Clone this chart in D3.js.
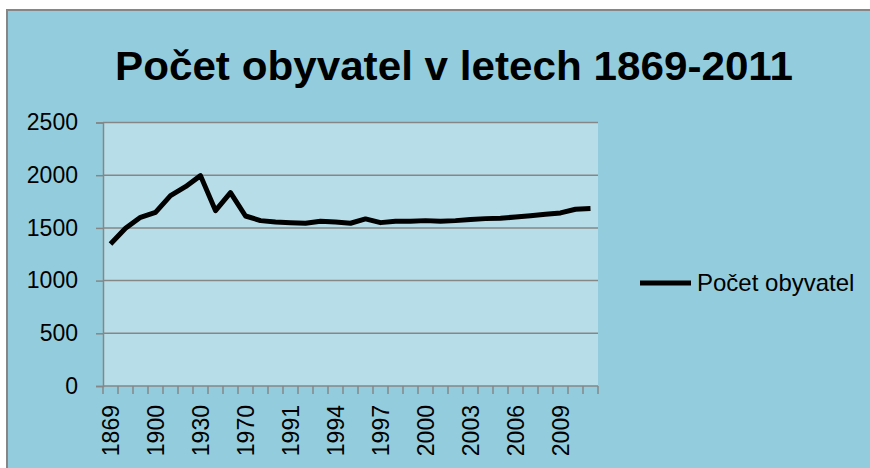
<!DOCTYPE html>
<html>
<head>
<meta charset="utf-8">
<title>Počet obyvatel v letech 1869-2011</title>
<script src="https://d3js.org/d3.v7.min.js"></script>
<style>
  body { margin: 0; background: #fff; }
  text { font-family: "Liberation Sans", Arial, sans-serif; fill: #000; }
</style>
</head>
<body>
<div id="chart"></div>
<script>
// census years (only every 3rd gets a label on the axis)
var years = ["1869", "1880", "1890", "1900", "1910", "1921", "1930", "1950", "1961", "1970", "1980", "1990",
  "1991", "1992", "1993", "1994", "1995", "1996", "1997", "1998", "1999", "2000", "2001",
  "2002", "2003", "2004", "2005", "2006", "2007", "2008", "2009", "2010", "2011"];
var population = [1348, 1497, 1601, 1648, 1806, 1891, 1996, 1664, 1835, 1613, 1569, 1556,
  1550, 1544, 1563, 1556, 1544, 1585, 1550, 1563, 1563, 1569, 1563,
  1569, 1579, 1588, 1591, 1604, 1616, 1629, 1642, 1677, 1683];
var yTicks = [0, 500, 1000, 1500, 2000, 2500];
var seriesName = "Počet obyvatel";
var title = "Počet obyvatel v letech 1869-2011";

var W = 870, H = 468;
var plot = { left: 103, right: 598, top: 122.5, bottom: 386 };

var svg = d3.select("#chart").append("svg")
  .attr("width", W).attr("height", H);

// chart area
svg.append("rect")
  .attr("x", 7).attr("y", 10).attr("width", W).attr("height", H)
  .attr("fill", "#93cddd").attr("stroke", "#868686").attr("stroke-width", 2);

// title
svg.append("text")
  .attr("x", 454).attr("y", 80)
  .attr("text-anchor", "middle")
  .attr("font-size", 40).attr("font-weight", "bold")
  .attr("textLength", 678).attr("lengthAdjust", "spacingAndGlyphs")
  .text(title);

var x = d3.scaleBand().domain(years).range([plot.left, plot.right]).padding(0);
var y = d3.scaleLinear().domain([0, 2500]).range([plot.bottom, plot.top]);

// plot area
svg.append("rect")
  .attr("x", plot.left).attr("y", plot.top)
  .attr("width", plot.right - plot.left).attr("height", plot.bottom - plot.top)
  .attr("fill", "#b7dee8");

// gridlines
svg.append("g").selectAll("line")
  .data(yTicks.filter(function (d) { return d > 0; }))
  .enter().append("line")
  .attr("x1", plot.left).attr("x2", plot.right)
  .attr("y1", function (d) { return y(d); }).attr("y2", function (d) { return y(d); })
  .attr("stroke", "#868686").attr("stroke-width", 1.5);

// y axis
var yAxis = svg.append("g")
  .attr("transform", "translate(" + plot.left + ",0)")
  .call(d3.axisLeft(y).tickValues(yTicks).tickFormat(d3.format("d")).tickSize(7).tickPadding(18));
yAxis.select(".domain").attr("stroke", "#868686").attr("stroke-width", 1.5);
yAxis.selectAll(".tick line").attr("stroke", "#868686").attr("stroke-width", 1.5);
yAxis.selectAll("text").attr("font-size", 23).attr("font-family", "Liberation Sans, Arial, sans-serif")
  .attr("fill", "#000");

// x axis: ticks between categories, like Excel
var xAxis = svg.append("g")
  .attr("transform", "translate(0," + plot.bottom + ")");
xAxis.append("line")
  .attr("x1", plot.left).attr("x2", plot.right)
  .attr("stroke", "#868686").attr("stroke-width", 1.5);
xAxis.selectAll("line.tk")
  .data(years.concat(["end"]))
  .enter().append("line").attr("class", "tk")
  .attr("x1", function (d, i) { return plot.left + i * x.bandwidth(); })
  .attr("x2", function (d, i) { return plot.left + i * x.bandwidth(); })
  .attr("y1", 0).attr("y2", 8)
  .attr("stroke", "#868686").attr("stroke-width", 1.5);
xAxis.selectAll("text")
  .data(years.filter(function (d, i) { return i % 3 === 0; }))
  .enter().append("text")
  .attr("transform", function (d) {
    return "translate(" + (x(d) + x.bandwidth() / 2) + ",19) rotate(-90)";
  })
  .attr("text-anchor", "end")
  .attr("dy", "0.36em")
  .attr("font-size", 23)
  .text(function (d) { return d; });

// series line
var line = d3.line()
  .x(function (d, i) { return x(years[i]) + x.bandwidth() / 2; })
  .y(function (d) { return y(d); });
svg.append("path")
  .datum(population)
  .attr("d", line)
  .attr("fill", "none").attr("stroke", "#000")
  .attr("stroke-width", 5).attr("stroke-linejoin", "round");

// legend
var legend = svg.append("g").attr("transform", "translate(640,283)");
legend.append("line")
  .attr("x1", 0).attr("x2", 51)
  .attr("stroke", "#000").attr("stroke-width", 5);
legend.append("text")
  .attr("x", 57).attr("dy", "0.35em")
  .attr("font-size", 24)
  .text(seriesName);
</script>
</body>
</html>
